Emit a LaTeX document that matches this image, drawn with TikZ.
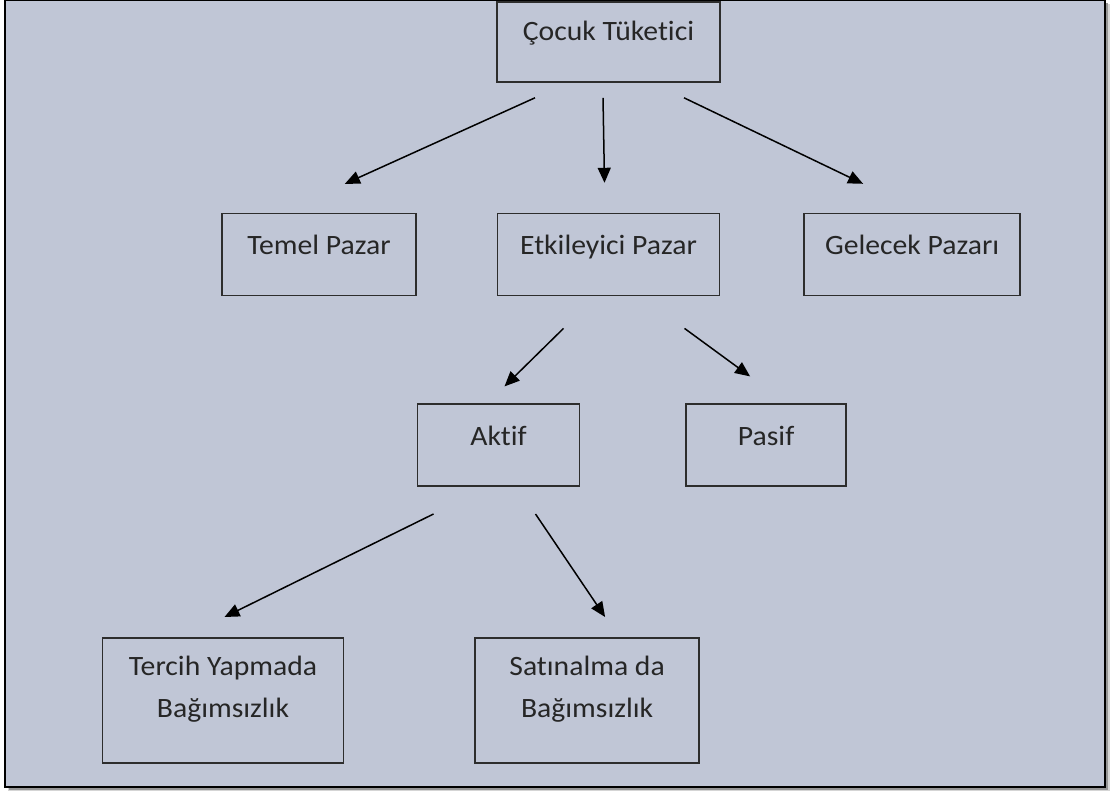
\documentclass[tikz,border=0pt]{standalone}
\usepackage{fontspec}
\setmainfont{Carlito}[FakeStretch=1.06, Ligatures=NoCommon]
\usetikzlibrary{positioning,arrows.meta}
\usepackage{xcolor}
\definecolor{zeminmavi}{RGB}{192,198,214}
\definecolor{kutugri}{RGB}{45,45,45}
\definecolor{yazigri}{RGB}{38,38,38}
\definecolor{golgegri}{RGB}{150,150,150}

\begin{document}
\begin{tikzpicture}[
    x=1pt, y=-1pt,
    kutu/.style={rectangle, draw=kutugri, line width=1.6pt, inner sep=0pt,
                 minimum width=#1, text height=41pt, text depth=41pt,
                 align=center, text=yazigri, font=\fontsize{28}{42}\selectfont},
    kutuiki/.style={kutu=#1, text height=80pt, text depth=45pt},
    ok/.style={-{Triangle[length=15pt,width=13pt]}, line width=1.5pt, draw=black}
]

\useasboundingbox (0,0) rectangle (1110,791);
\fill[white] (0,0) rectangle (1110,791);
\fill[golgegri!40] (8,4) rectangle (1110,791);
\fill[golgegri] (9,3) rectangle (1108,790);
\filldraw[fill=zeminmavi, draw=black, line width=2.5pt] (5,0) rectangle (1105,787);

\node[kutu=223pt, text height=39pt] (cocuk) at (608.5,42) {Çocuk Tüketici};

\node[kutu=222pt, below=130pt of cocuk] (etki) {Etkileyici Pazar};
\node[kutu=194pt, left=80pt of etki] (temel) {Temel Pazar};
\node[kutu=216pt, right=83pt of etki] (gelecek) {Gelecek Pazarı};

\node[kutu=162pt, below=107pt of etki, xshift=-110pt] (aktif) {Aktif};
\node[kutu=160pt, right=105pt of aktif] (pasif) {Pasif};

\node[kutuiki=241pt, below=150pt of aktif, xshift=-275.5pt] (tercih) {Tercih Yapmada\\Bağımsızlık};
\node[kutuiki=224pt, right=130pt of tercih] (satin) {Satınalma da\\Bağımsızlık};

\draw[ok] ([xshift=-73.5pt, yshift=-15pt]cocuk.south) -- ([xshift=26pt, yshift=29pt]temel.north);
\draw[ok] ([xshift=-5.5pt, yshift=-15pt]cocuk.south) -- ([xshift=-4pt, yshift=30pt]etki.north);
\draw[ok] ([xshift=75.5pt, yshift=-15pt]cocuk.south) -- ([xshift=-49pt, yshift=29pt]gelecek.north);

\draw[ok] ([xshift=-45pt, yshift=-32pt]etki.south) -- ([xshift=6pt, yshift=17pt]aktif.north);
\draw[ok] ([xshift=76pt, yshift=-32pt]etki.south) -- ([xshift=-16pt, yshift=27pt]pasif.north);

\draw[ok] ([xshift=-65pt, yshift=-27pt]aktif.south) -- ([xshift=1.5pt, yshift=20pt]tercih.north);
\draw[ok] ([xshift=37pt, yshift=-27pt]aktif.south) -- ([xshift=18pt, yshift=20pt]satin.north);

\end{tikzpicture}
\end{document}
